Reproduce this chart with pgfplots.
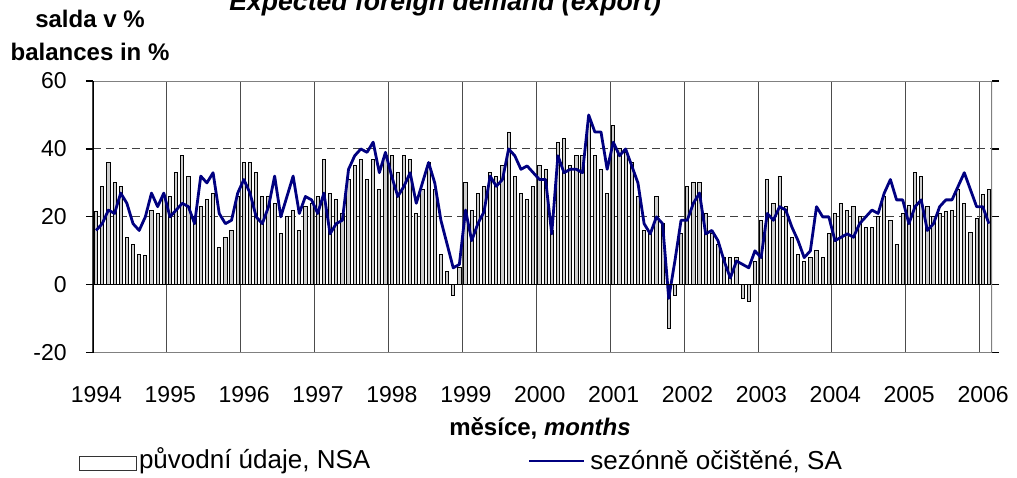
\documentclass[border=0pt]{standalone}
\usepackage{fontspec}
\setmainfont{Liberation Sans}
\usepackage{pgfplots}
\usepackage{pgfplotstable}
\pgfplotsset{compat=1.18}
\definecolor{navyline}{RGB}{0,0,128}
\definecolor{framegray}{RGB}{128,128,128}
\definecolor{bargray}{RGB}{205,205,205}

% monthly values Jan 1994 - Feb 2006: nsa = original data, sa = seasonally adjusted
\pgfplotstableread[row sep=\\]{
nsa sa\\
21.5 16\\ 29 18\\ 36 22\\ 30 21\\ 29 27\\ 14 24\\ 12 18\\ 9 16\\ 8.5 20\\ 22 27\\ 21 23\\ 26 27\\
26 20\\ 33 22\\ 38 24\\ 32 23\\ 20 18\\ 23 32\\ 25 30\\ 27 33\\ 11 21\\ 14 18\\ 16 19\\ 26 27\\
36 31\\ 36 27\\ 33 20\\ 26 18\\ 26 23\\ 24 32\\ 15 20\\ 20 26\\ 22 32\\ 16 21\\ 23 26\\ 24 25\\
26 21\\ 37 27\\ 27 15\\ 25 18\\ 21 19\\ 31 34\\ 35 38\\ 37 40\\ 31 39\\ 37 42\\ 28 33\\ 38 39\\
38 32\\ 33 26\\ 38 29\\ 37 33\\ 21 24\\ 28 30\\ 36 36\\ 28 30\\ 9 19\\ 4 12\\ -3 5\\ 5 6\\
30 22\\ 22 13\\ 27 18\\ 29 21.5\\ 33 32\\ 32 29\\ 35 31\\ 45 40\\ 32 38\\ 27 34\\ 25 35\\ 29 33\\
35 31\\ 34 31\\ 16 15\\ 42 38\\ 43 33\\ 35 34\\ 38 34\\ 38 33\\ 48 50\\ 38 45\\ 34 45\\ 27 34\\
47 42\\ 40 38\\ 39 40\\ 36 35\\ 26 30\\ 16 18\\ 15 15\\ 26 20\\ 18 18\\ -13 -4\\ -3 7\\ 15 19\\
29 19\\ 30 24\\ 30 27\\ 21 15\\ 15 16\\ 12 13\\ 8 7\\ 8 2\\ 8 7\\ -4 6\\ -5 5\\ 7 10\\
19 8\\ 31 21\\ 24 19\\ 32 23\\ 23 22\\ 14 17\\ 9 13\\ 7 8\\ 8 10\\ 10 23\\ 8 20\\ 15 20\\
21 13\\ 24 14\\ 22 15\\ 23 14\\ 20 18\\ 17 20\\ 17 22\\ 20 21\\ 26 27\\ 19 31\\ 12 25\\ 21 25\\
23.5 18\\ 33 23\\ 32 25\\ 23 16\\ 20 18\\ 21 23\\ 21.5 25\\ 22 25\\ 28 29\\ 24 33\\ 15.5 28\\ 19.5 23\\
26.5 23\\ 28 18\\
}\datatable

\begin{document}
\begin{tikzpicture}
\path[use as bounding box] (0pt,0pt) rectangle (508.5pt,-238.5pt);
\begin{axis}[
  at={(46.5pt,-176.35pt)}, anchor=south west,
  scale only axis, width=449.5pt, height=135.85pt,
  xmin=0, xmax=146, ymin=-20, ymax=60,
  axis line style={draw=none},
  xtick={0,12,24,36,48,60,72,84,96,108,120,132,144},
  xticklabels={1994,1995,1996,1997,1998,1999,2000,2001,2002,2003,2004,2005,2006},
  ytick={-20,0,20,40,60},
  yticklabels={-20,0,20,40,60},
  xmajorgrids, ymajorgrids,
  major x grid style={solid, color=black!70, line width=0.5pt},
  major y grid style={dash pattern=on 4pt off 2.5pt, color=black!75, line width=0.5pt},
  tick align=outside, major tick length=3.5pt,
  xtick style={draw=none},
  ytick style={black, line width=0.6pt},
  xticklabel style={font=\fontsize{11.5}{13}\selectfont, anchor=base, yshift=-21.6pt, xshift=1.7pt},
  yticklabel style={font=\fontsize{11.5}{13}\selectfont, anchor=east, inner sep=0pt, xshift=-9.5pt},
]
\addplot[ybar, bar width=0.52, fill=bargray, draw=black, line width=0.45pt]
  table[x expr=\coordindex+0.5, y=nsa] {\datatable};
\addplot[navyline, line width=1.4pt, no marks, line join=round]
  table[x expr=\coordindex+0.5, y=sa] {\datatable};
\draw[black, line width=0.6pt] (axis cs:0,0) -- (axis cs:146,0);
\draw[framegray, line width=1pt] (rel axis cs:0,1) -- (rel axis cs:1,1) -- (rel axis cs:1,0) -- (rel axis cs:0,0);
\draw[black, line width=0.8pt] (rel axis cs:0,0) -- (rel axis cs:0,1);
\end{axis}
\node[anchor=base west, inner sep=0pt, font=\fontsize{13.3}{16}\selectfont\bfseries\itshape] at (114.5pt,-5pt) {Expected foreign demand (export)};
\node[anchor=base, inner sep=0pt, font=\fontsize{12}{14}\selectfont\bfseries] at (45pt,-13.5pt) {salda v \%};
\node[anchor=base, inner sep=0pt, font=\fontsize{12}{14}\selectfont\bfseries] at (45pt,-30pt) {balances in \%};
\node[anchor=base, inner sep=0pt, font=\fontsize{12}{14}\selectfont\bfseries] at (270pt,-217.5pt) {měsíce, \textit{months}};
\draw[black!80, fill=white, line width=0.5pt] (39.65pt,-228.35pt) rectangle (68pt,-235pt);
\node[anchor=base west, inner sep=0pt, font=\fontsize{13}{15}\selectfont] at (69.3pt,-234pt) {původní údaje, NSA};
\draw[navyline, line width=1.4pt] (264.5pt,-230.5pt) -- (292pt,-230.5pt);
\node[anchor=base west, inner sep=0pt, font=\fontsize{13}{15}\selectfont] at (295pt,-234.5pt) {sezónně očištěné, SA};
\end{tikzpicture}
\end{document}
